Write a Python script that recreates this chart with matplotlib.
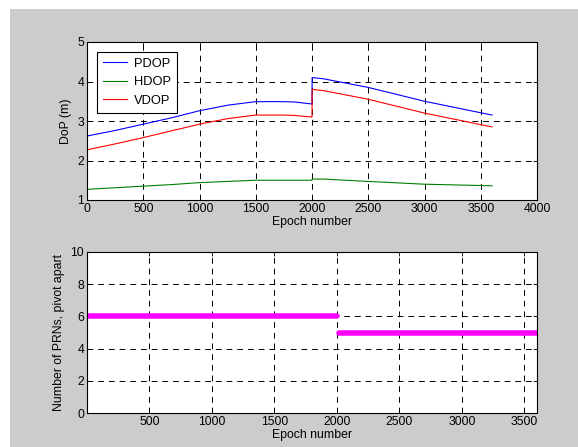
import matplotlib
matplotlib.use("Agg")
import matplotlib.pyplot as plt
from matplotlib.patches import Rectangle

plt.rcParams['font.family'] = ['Liberation Sans', 'DejaVu Sans']
plt.rcParams['font.size'] = 8.8

## DoP values
epoch = [0, 250, 500, 750, 1000, 1250, 1500, 1750, 1850, 2000, 2001, 2100, 2500, 3000, 3600]
pdop = [2.62, 2.76, 2.92, 3.08, 3.26, 3.40, 3.49, 3.49, 3.48, 3.43, 4.10, 4.07, 3.85, 3.50, 3.15]
hdop = [1.27, 1.31, 1.35, 1.39, 1.44, 1.47, 1.50, 1.50, 1.50, 1.50, 1.53, 1.53, 1.47, 1.40, 1.36]
vdop = [2.27, 2.42, 2.58, 2.75, 2.92, 3.06, 3.15, 3.15, 3.14, 3.10, 3.80, 3.77, 3.55, 3.20, 2.85]

## number of PRNs (pivot apart), bottom panel
prn_epoch_a = [1, 2000]
prn_a = [6, 6]
prn_epoch_b = [2015, 3600]
prn_b = [5, 5]

fig = plt.figure(figsize=(5.78, 4.47), dpi=100, facecolor='white')
fig.patches.append(Rectangle((10 / 578, 0), 1, 1 - 9 / 447, transform=fig.transFigure,
                             facecolor='#cccccc', edgecolor='none', zorder=-10))

grid_style = dict(color='black', linestyle=(0, (6, 5)), linewidth=0.7)


def matlab_axes(ax):
    ax.set_facecolor('white')
    ax.grid(True, **grid_style)
    ax.tick_params(direction='in', top=True, right=True, length=3, width=0.6, colors='black', pad=2)
    for s in ax.spines.values():
        s.set_linewidth(0.8)


ax1 = fig.add_axes([87 / 578, 1 - 200 / 447, 450 / 578, 158 / 447])
ax1.plot(epoch, pdop, color='blue', linewidth=0.8, label='PDOP')
ax1.plot(epoch, hdop, color='#008000', linewidth=0.8, label='HDOP')
ax1.plot(epoch, vdop, color='red', linewidth=0.8, label='VDOP')
ax1.set_xlim(0, 4000)
ax1.set_ylim(1, 5)
ax1.set_xticks(range(0, 4001, 500))
ax1.set_yticks([1, 2, 3, 4, 5])
ax1.set_xlabel('Epoch number', labelpad=1)
ax1.set_ylabel('DoP (m)', labelpad=4)
matlab_axes(ax1)
leg = ax1.legend(loc='upper left', bbox_to_anchor=(0.022, 0.937), borderaxespad=0,
                 fancybox=False, framealpha=1, edgecolor='black', handlelength=1.9,
                 borderpad=0.45, labelspacing=0.5, handletextpad=0.55, fontsize=9.3)
leg.get_frame().set_linewidth(0.8)

ax2 = fig.add_axes([87 / 578, 1 - 413 / 447, 450 / 578, 161 / 447])
ax2.plot(prn_epoch_a, prn_a, color='magenta', linewidth=4, solid_capstyle='round')
ax2.plot(prn_epoch_b, prn_b, color='magenta', linewidth=4, solid_capstyle='round')
ax2.set_xlim(1, 3600)
ax2.set_ylim(0, 10)
ax2.set_xticks(range(500, 3501, 500))
ax2.set_yticks(range(0, 11, 2))
ax2.set_xlabel('Epoch number', labelpad=1)
ax2.set_ylabel('Number of PRNs, pivot apart', labelpad=4)
matlab_axes(ax2)

fig.savefig('out.png', dpi=100, facecolor=fig.get_facecolor())
